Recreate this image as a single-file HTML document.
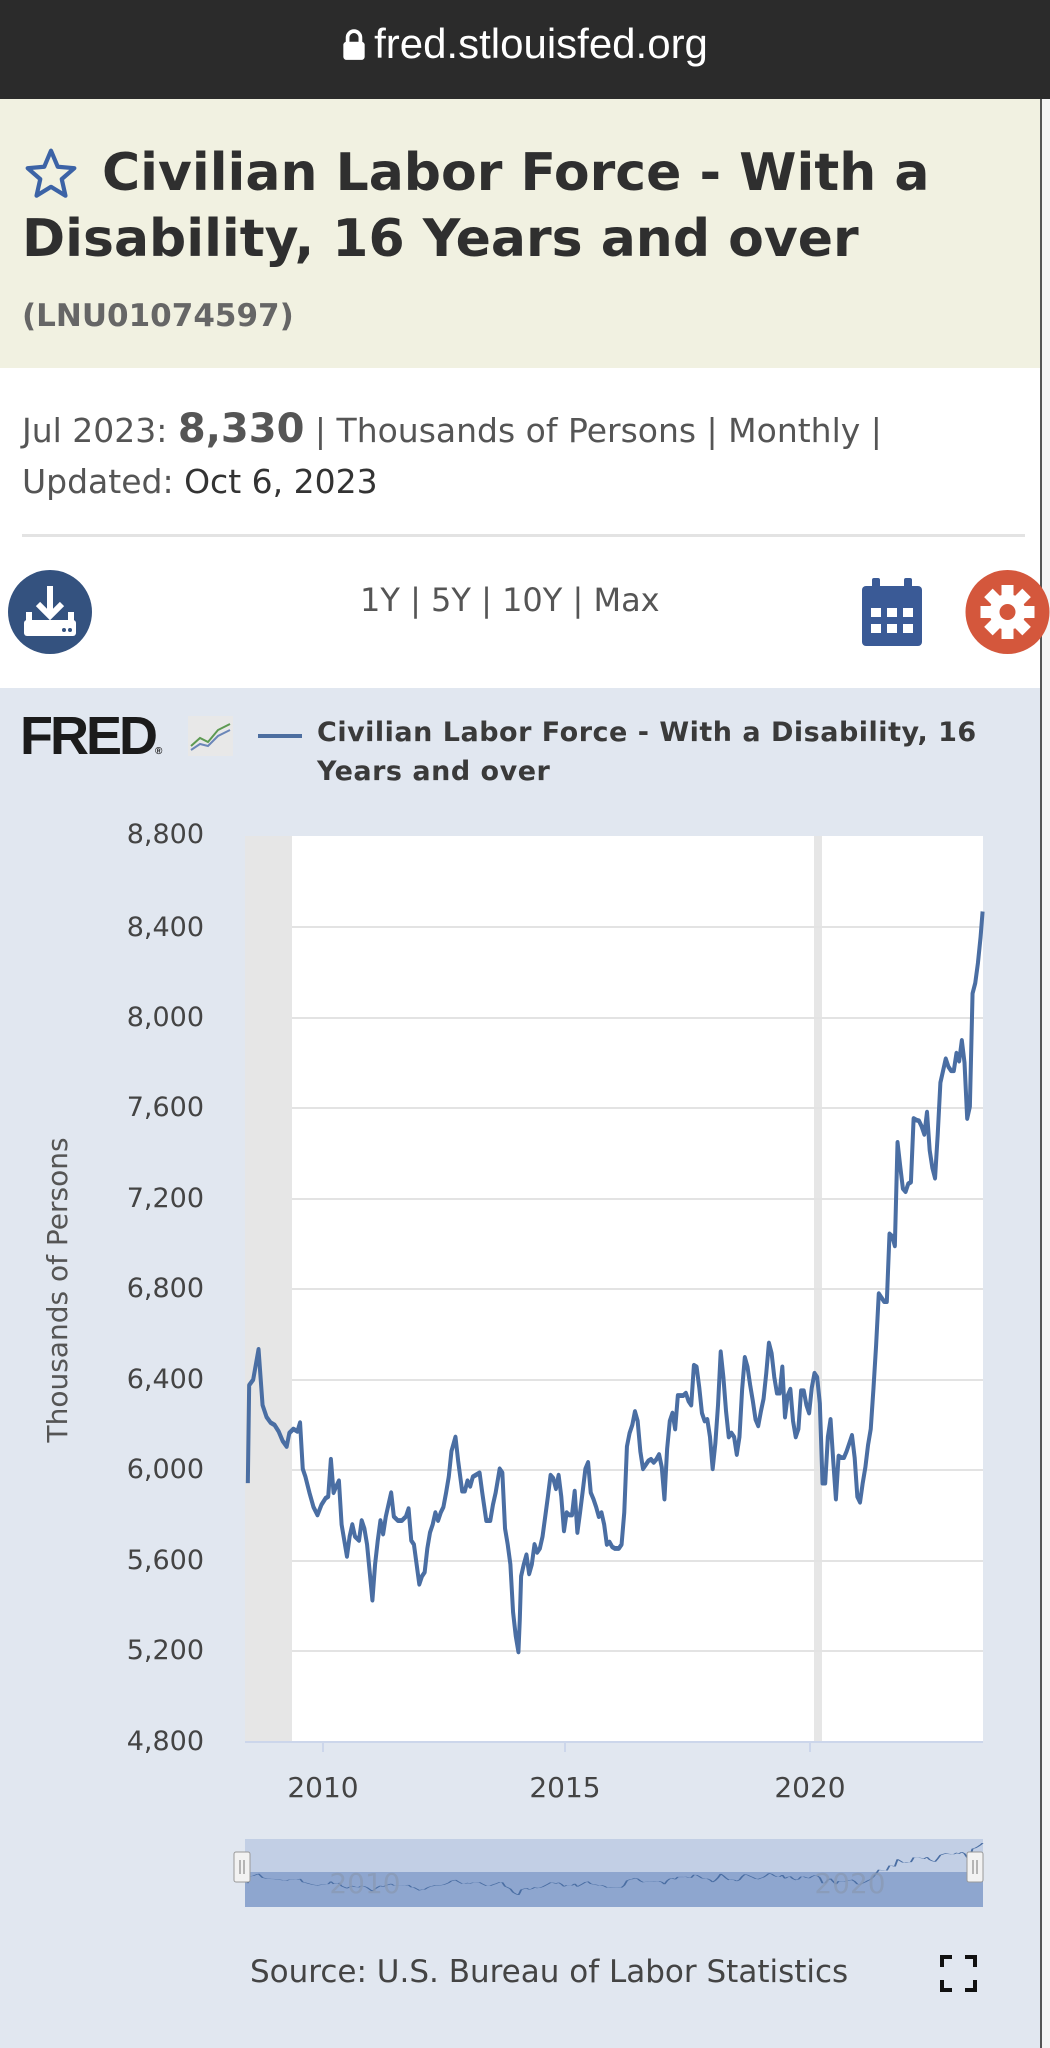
<!DOCTYPE html>
<html><head><meta charset="utf-8"><style>
*{margin:0;padding:0;box-sizing:border-box}
body{width:1050px;height:2048px;overflow:hidden;position:relative;background:#e1e7f0;font-family:"DejaVu Sans","Liberation Sans",sans-serif}
.a{position:absolute;white-space:nowrap}
</style></head><body>
<div class="a" style="left:0;top:0;width:1050px;height:99px;background:#2b2b2b"></div>
<div class="a" style="left:0;top:20px;width:1050px;text-align:center;color:#fff;font-size:39px;line-height:48px;font-family:'Liberation Sans',sans-serif">
<svg width="24" height="32" viewBox="0 0 22 30" style="vertical-align:-3px;margin-right:8px"><path d="M5 13V8a6 6 0 0 1 12 0v5" fill="none" stroke="#fff" stroke-width="3.5"/><rect x="1" y="12" width="20" height="17" rx="3" fill="#fff"/></svg><span style="font-size:42px">fred.stlouisfed.org</span></div>
<div class="a" style="left:0;top:99px;width:1040px;height:269px;background:#f1f1e1"></div>
<div class="a" style="left:0;top:368px;width:1040px;height:320px;background:#fff"></div>
<div class="a" style="left:1040px;top:99px;width:10px;height:1949px;background:#f4f4f4;border-left:2px solid #555"></div>
<svg class="a" style="left:22px;top:146px" width="58" height="56" viewBox="0 0 24 24"><path d="M12 2l2.9 6.9 7.1.6-5.4 4.7 1.6 7.1L12 17.5 5.8 21.3l1.6-7.1L2 9.5l7.1-.6z" fill="none" stroke="#3c63a6" stroke-width="1.8" stroke-linejoin="round"/></svg>
<div class="a" style="left:102px;top:142px;font-size:52px;font-weight:bold;color:#2f2f2f;line-height:62px">Civilian Labor Force - With a</div>
<div class="a" style="left:22px;top:208px;font-size:52px;font-weight:bold;color:#2f2f2f;line-height:62px">Disability, 16 Years and over</div>
<div class="a" style="left:22px;top:296px;font-size:31px;font-weight:bold;color:#666;line-height:40px">(LNU01074597)</div>
<div class="a" style="left:22px;top:406px;font-size:33px;color:#555;line-height:46px">Jul 2023: <b style="font-size:40px;color:#555">8,330</b> | Thousands of Persons | Monthly |</div>
<div class="a" style="left:22px;top:459px;font-size:33px;color:#555;line-height:46px">Updated: <span style="color:#333">Oct 6, 2023</span></div>
<div class="a" style="left:22px;top:534px;width:1003px;height:3px;background:#e3e3e3"></div>
<svg class="a" style="left:8px;top:570px" width="84" height="84" viewBox="0 0 84 84"><circle cx="42" cy="42" r="42" fill="#34527f"/><path d="M42 16v28M30 34l12 12 12-12" stroke="#fff" stroke-width="6" fill="none"/><rect x="16" y="50" width="52" height="16" rx="3" fill="#fff"/><rect x="18" y="42" width="6" height="10" fill="#fff"/><rect x="60" y="42" width="6" height="10" fill="#fff"/><circle cx="56" cy="60" r="2" fill="#34527f"/><circle cx="62" cy="60" r="2" fill="#34527f"/></svg>
<div class="a" style="left:360px;top:578px;font-size:32px;color:#555;line-height:44px">1Y | 5Y | 10Y | Max</div>
<svg class="a" style="left:862px;top:578px" width="60" height="68" viewBox="0 0 60 68"><rect x="0" y="8" width="60" height="60" rx="4" fill="#3a5a96"/><rect x="10" y="0" width="8" height="16" rx="2" fill="#3a5a96"/><rect x="42" y="0" width="8" height="16" rx="2" fill="#3a5a96"/><g fill="#fff"><rect x="9" y="30" width="10" height="9"/><rect x="25" y="30" width="10" height="9"/><rect x="41" y="30" width="10" height="9"/><rect x="9" y="46" width="10" height="9"/><rect x="25" y="46" width="10" height="9"/><rect x="41" y="46" width="10" height="9"/></g></svg>
<svg class="a" style="left:965px;top:570px" width="85" height="84" viewBox="0 0 84 84"><circle cx="42" cy="42" r="42" fill="#d4573c"/><g fill="#fff" transform="translate(42 42)"><circle r="18"/><g id="t"><rect x="-6" y="-27" width="12" height="12"/></g><use href="#t" transform="rotate(45)"/><use href="#t" transform="rotate(90)"/><use href="#t" transform="rotate(135)"/><use href="#t" transform="rotate(180)"/><use href="#t" transform="rotate(225)"/><use href="#t" transform="rotate(270)"/><use href="#t" transform="rotate(315)"/><circle r="8" fill="#d4573c"/></g></svg>
<div class="a" style="left:20px;top:706px;font-size:54px;font-weight:900;color:#1b1b1b;letter-spacing:-3px;line-height:60px;font-family:'Liberation Sans',sans-serif">FRED<span style="font-size:10px;letter-spacing:0">®</span></div>
<svg class="a" style="left:188px;top:716px" width="45" height="40" viewBox="0 0 45 40"><rect width="45" height="40" fill="#e8e8e8"/><polyline points="3,30 12,22 20,26 30,14 42,8" fill="none" stroke="#5d9a52" stroke-width="2"/><polyline points="3,34 12,28 20,30 30,20 42,14" fill="none" stroke="#6b86b8" stroke-width="2"/></svg>
<div class="a" style="left:258px;top:734px;width:44px;height:4px;background:#4c6ea0"></div>
<div class="a" style="left:317px;top:713px;font-size:27px;font-weight:bold;color:#3a3a3a;line-height:39px;letter-spacing:0.5px">Civilian Labor Force - With a Disability, 16<br>Years and over</div>
<svg class="a" style="left:0;top:0" width="1050" height="2048">
<rect x="245" y="836" width="738" height="906" fill="#fff"/>
<rect x="245" y="836" width="47" height="906" fill="#e6e6e6"/>
<rect x="814" y="836" width="8" height="906" fill="#e6e6e6"/>
<g stroke="#e3e3e3" stroke-width="2">
<line x1="292" x2="983" y1="927" y2="927"/><line x1="292" x2="983" y1="1018" y2="1018"/><line x1="292" x2="983" y1="1108" y2="1108"/><line x1="292" x2="983" y1="1199" y2="1199"/><line x1="292" x2="983" y1="1289" y2="1289"/><line x1="292" x2="983" y1="1380" y2="1380"/><line x1="292" x2="983" y1="1470" y2="1470"/><line x1="292" x2="983" y1="1561" y2="1561"/><line x1="292" x2="983" y1="1651" y2="1651"/></g>
<line x1="245" x2="983" y1="1742" y2="1742" stroke="#ccd6eb" stroke-width="2"/>
<g stroke="#ccd6eb" stroke-width="2"><line x1="323" x2="323" y1="1742" y2="1752"/><line x1="565" x2="565" y1="1742" y2="1752"/><line x1="810" x2="810" y1="1742" y2="1752"/></g>
<g font-family="DejaVu Sans,sans-serif" font-size="27" fill="#444" text-anchor="end">
<text x="204" y="843">8,800</text><text x="204" y="936">8,400</text><text x="204" y="1026">8,000</text><text x="204" y="1116">7,600</text><text x="204" y="1207">7,200</text><text x="204" y="1297">6,800</text><text x="204" y="1388">6,400</text><text x="204" y="1478">6,000</text><text x="204" y="1569">5,600</text><text x="204" y="1659">5,200</text><text x="204" y="1750">4,800</text></g>
<g font-family="DejaVu Sans,sans-serif" font-size="28" fill="#444" text-anchor="middle">
<text x="323" y="1797">2010</text><text x="565" y="1797">2015</text><text x="810" y="1797">2020</text></g>
<text transform="translate(67 1290) rotate(-90)" text-anchor="middle" font-family="DejaVu Sans,sans-serif" font-size="28" fill="#555">Thousands of Persons</text>
<defs><polyline id="s" points="370,858 372,735 378,728 386,690 392,760 398,775 404,782 410,785 416,793 422,805 428,812 432,795 438,790 444,793 448,782 452,840 456,850 462,870 468,888 474,898 480,885 486,877 490,875 494,828 498,870 502,862 506,855 510,910 514,930 518,950 522,925 526,910 530,925 536,930 540,905 544,915 548,935 552,970 556,1005 560,960 564,930 568,905 572,922 576,900 580,885 584,870 588,900 594,905 600,905 606,900 610,890 614,930 618,935 622,960 626,985 630,975 634,970 638,940 642,920 646,910 650,895 654,905 658,895 662,888 666,870 670,850 674,818 680,800 684,830 690,868 694,868 698,855 702,862 706,850 710,848 716,845 720,870 726,905 732,905 736,885 740,870 746,840 750,845 754,915 758,935 762,960 766,1020 770,1050 774,1070 776,1030 778,975 782,960 786,948 790,972 794,960 798,935 802,945 806,940 810,925 814,900 818,875 822,848 826,852 830,865 834,848 838,875 842,918 846,895 850,898 854,898 858,868 862,920 866,895 870,868 874,840 878,832 882,870 886,878 890,888 894,900 898,895 902,910 906,935 910,932 914,938 918,940 924,940 928,935 932,895 936,812 940,795 944,785 948,768 952,780 956,818 960,840 964,835 968,830 972,828 976,832 980,828 984,822 988,838 992,878 996,815 1000,780 1004,770 1008,790 1012,748 1016,748 1020,748 1024,745 1028,755 1032,760 1036,710 1040,712 1044,738 1048,770 1052,780 1056,778 1060,800 1064,840 1068,808 1072,760 1076,693 1080,725 1084,768 1088,800 1092,795 1096,800 1100,822 1104,800 1108,740 1112,700 1116,712 1120,735 1124,755 1128,778 1132,786 1136,768 1140,752 1144,720 1148,682 1152,695 1156,725 1160,745 1164,745 1168,712 1172,775 1176,748 1180,740 1184,780 1188,800 1192,790 1196,742 1200,742 1204,760 1208,770 1212,738 1216,720 1220,725 1224,758 1228,858 1232,858 1236,800 1240,778 1244,830 1248,878 1252,824 1256,826 1260,826 1264,818 1268,808 1272,798 1276,826 1280,875 1284,882 1288,858 1292,838 1296,810 1300,790 1304,740 1308,685 1312,620 1316,625 1320,630 1324,630 1328,545 1332,548 1336,560 1340,430 1344,460 1348,488 1352,492 1356,482 1360,480 1364,400 1368,402 1372,403 1376,410 1380,420 1384,392 1388,440 1392,462 1396,475 1400,420 1404,355 1408,340 1412,325 1416,335 1420,340 1424,340 1428,318 1432,328 1436,302 1440,330 1444,400 1448,385 1452,243 1456,230 1460,205 1464,172 1467,140"/></defs>
<g transform="translate(0 800) scale(0.6698 0.7962)"><use href="#s" fill="none" stroke="#4a6ea3" stroke-width="6" stroke-linejoin="round"/></g>
<rect x="245" y="1839" width="738" height="68" fill="#c2cfe5"/>
<rect x="245" y="1872" width="738" height="35" fill="#8ea6cf"/>
<g transform="translate(0 1835.2) scale(0.6698 0.0559)"><use href="#s" fill="none" stroke="#4a6ea3" stroke-width="3"/></g>
<g font-family="DejaVu Sans,sans-serif" font-size="28" fill="#8a9ab5" opacity="0.8" text-anchor="middle"><text x="365" y="1893">2010</text><text x="850" y="1893">2020</text></g>
<rect x="234" y="1852" width="16" height="30" rx="2" fill="#f2f2f2" stroke="#999"/><line x1="240" x2="240" y1="1860" y2="1874" stroke="#777"/><line x1="244" x2="244" y1="1860" y2="1874" stroke="#777"/>
<rect x="967" y="1852" width="16" height="30" rx="2" fill="#f2f2f2" stroke="#999"/><line x1="973" x2="973" y1="1860" y2="1874" stroke="#777"/><line x1="977" x2="977" y1="1860" y2="1874" stroke="#777"/>
<text x="250" y="1982" font-family="DejaVu Sans,sans-serif" font-size="31" fill="#444">Source: U.S. Bureau of Labor Statistics</text>
<g stroke="#111" stroke-width="4" fill="none"><path d="M942 1967v-10h10M965 1957h10v10M975 1980v10h-10M952 1990h-10v-10"/></g>
</svg>
</body></html>
